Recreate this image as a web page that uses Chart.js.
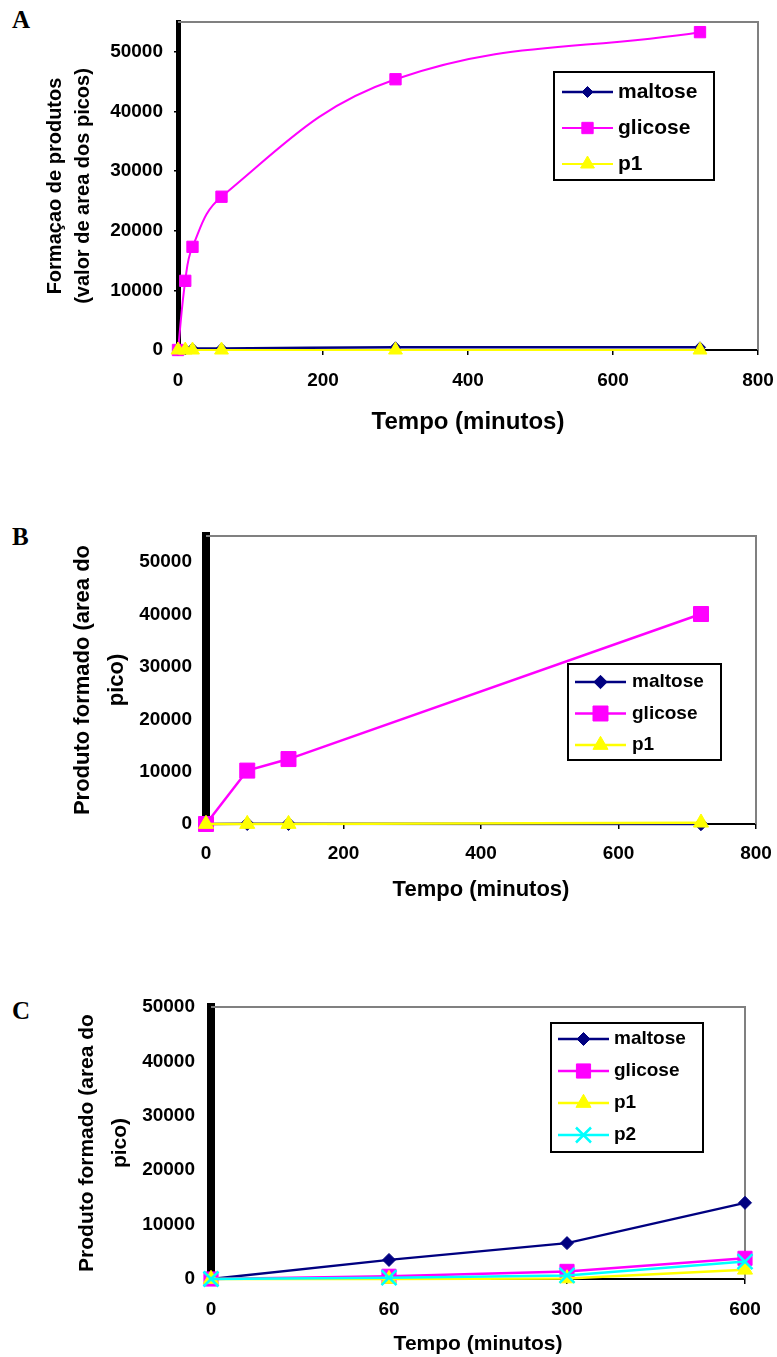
<!DOCTYPE html>
<html>
<head>
<meta charset="utf-8">
<script src="https://cdn.jsdelivr.net/npm/chart.js@4.4.1/dist/chart.umd.min.js"></script>
<style>
  body { margin: 0; background: #fff; }
  #page { position: relative; width: 777px; height: 1357px; overflow: hidden; background: #fff; }
  #page canvas { position: absolute; left: 0; }
  .tag { position: absolute; left: 12px; font: bold 25px "Liberation Serif", "Times New Roman", serif; line-height: 1; }
</style>
</head>
<body>
<div id="page">
  <div class="tag" style="top:7px">A</div>
  <div class="tag" style="top:524px">B</div>
  <div class="tag" style="top:998px">C</div>
  <canvas id="chart-a" width="777" height="440" style="top:0"></canvas>
  <canvas id="chart-b" width="777" height="405" style="top:500px"></canvas>
  <canvas id="chart-c" width="777" height="372" style="top:985px"></canvas>
</div>
<script>
// PANEL A - times in minutes, peak areas
const timesA = [0, 10, 20, 60, 300, 720];
const maltoseA = [0, 100, 250, 250, 450, 450];
const glicoseA = [0, 11600, 17300, 25700, 45400, 53300];
const p1A = [0, 0, 0, 0, 0, 0];

// PANEL B
const timesB = [0, 60, 120, 720];
const maltoseB = [0, 50, 50, 0];
const glicoseB = [0, 10200, 12400, 40100];
const p1B = [0, 0, 0, 250];

// PANEL C (category axis)
const timesC = ['0', '60', '300', '600'];
const maltoseC = [0, 3500, 6600, 14000];
const glicoseC = [0, 500, 1400, 3800];
const p1C = [0, 0, 100, 1700];
const p2C = [0, 250, 650, 3200];

// axis ticks
const yTicks = [0, 10000, 20000, 30000, 40000, 50000];
const xTicksAB = [0, 200, 400, 600, 800];

const xTitle = 'Tempo (minutos)';
const yTitleA = ['Formaçao de produtos', '(valor de area dos picos)'];
const yTitleBC = ['Produto formado (area do', 'pico)'];

Chart.defaults.font.family = 'Arial, "Liberation Sans", Helvetica, sans-serif';
Chart.defaults.color = '#000';

const look = {
  maltose: { color: '#000080', pointStyle: 'rectRot' },
  glicose: { color: '#ff00ff', pointStyle: 'rect' },
  p1: { color: '#ffff00', pointStyle: 'triangle' },
  p2: { color: '#00ffff', pointStyle: 'crossRot' }
};

// xs may be null for a category axis
function series(name, xs, ys, order, radius, width) {
  const st = look[name];
  return {
    label: name,
    data: xs ? xs.map((x, i) => ({ x: x, y: ys[i] })) : ys,
    borderColor: st.color,
    backgroundColor: st.color,
    borderWidth: width,
    pointStyle: st.pointStyle,
    pointRadius: radius,
    pointHoverRadius: radius,
    pointBackgroundColor: st.color,
    pointBorderColor: st.color,
    pointBorderWidth: st.pointStyle === 'crossRot' ? 2.5 : 1,
    order: order,
    clip: false
  };
}

// legend box drawn inside the plot, like the spreadsheet one
const boxLegend = {
  id: 'boxLegend',
  afterDraw(chart, args, o) {
    const ctx = chart.ctx;
    ctx.save();
    ctx.fillStyle = '#fff';
    ctx.fillRect(o.x, o.y, o.w, o.h);
    ctx.lineWidth = 2;
    ctx.strokeStyle = '#000';
    ctx.strokeRect(o.x, o.y, o.w, o.h);
    chart.data.datasets.forEach((ds, i) => {
      const y = o.row + i * o.gap;
      ctx.strokeStyle = ds.borderColor;
      ctx.lineWidth = ds.borderWidth;
      ctx.beginPath();
      ctx.moveTo(o.line0, y);
      ctx.lineTo(o.line1, y);
      ctx.stroke();
      ctx.fillStyle = ds.pointBackgroundColor;
      ctx.strokeStyle = ds.pointBorderColor;
      ctx.lineWidth = ds.pointBorderWidth;
      Chart.helpers.drawPoint(ctx, {
        pointStyle: ds.pointStyle, radius: ds.pointRadius, rotation: 0, borderWidth: ds.pointBorderWidth
      }, (o.line0 + o.line1) / 2, y);
      ctx.fillStyle = '#000';
      ctx.font = 'bold ' + o.size + 'px Arial, "Liberation Sans", sans-serif';
      ctx.textBaseline = 'middle';
      ctx.textAlign = 'left';
      ctx.fillText(ds.label, o.text, y);
    });
    ctx.restore();
  }
};

// grey top and right edges of the plot area
const frame = {
  id: 'frame',
  beforeDatasetsDraw(chart) {
    const { ctx, chartArea: a } = chart;
    ctx.save();
    ctx.strokeStyle = '#808080';
    ctx.lineWidth = 2;
    ctx.beginPath();
    ctx.moveTo(a.left, a.top);
    ctx.lineTo(a.right, a.top);
    ctx.lineTo(a.right, a.bottom);
    ctx.stroke();
    ctx.restore();
  }
};

function yAxis(p) {
  return {
    min: 0,
    max: p.max,
    afterBuildTicks: s => { s.ticks = yTicks.map(v => ({ value: v })); },
    ticks: {
      padding: p.tickPad,
      font: { size: 19, weight: 'bold' }, color: '#000',
      callback: v => String(v)
    },
    grid: { drawOnChartArea: false, tickLength: 4, color: '#000', lineWidth: 1.5 },
    border: { color: '#000', width: p.bar },
    title: {
      display: true, text: p.title, color: '#000',
      font: { size: p.titleSize, weight: 'bold', lineHeight: p.titleLh },
      padding: { top: p.titlePad, bottom: 0 }
    },
    afterFit: s => { s.width = p.left; s.paddingTop = 0; s.paddingBottom = 0; }
  };
}

function xAxis(p) {
  const ax = {
    ticks: {
      padding: p.tickPad, font: { size: p.tickSize, weight: 'bold' }, color: '#000',
      autoSkip: false, maxRotation: 0
    },
    grid: { drawOnChartArea: false, tickLength: 5, color: '#000', lineWidth: 1.5 },
    border: { color: '#000', width: 2 },
    title: {
      display: true, text: xTitle, color: '#000',
      font: { size: p.titleSize, weight: 'bold' },
      padding: { top: 0, bottom: p.titlePad }
    },
    afterFit: s => { s.height = p.height; s.paddingLeft = 0; s.paddingRight = 0; }
  };
  if (p.linear) {
    ax.type = 'linear';
    ax.min = 0;
    ax.max = 800;
    ax.afterBuildTicks = s => { s.ticks = xTicksAB.map(v => ({ value: v })); };
    ax.ticks.callback = v => String(v);
  } else {
    ax.type = 'category';
    ax.offset = false;
    ax.grid.offset = false;
  }
  return ax;
}

// CHART A
new Chart(document.getElementById('chart-a'), {
  type: 'line',
  data: {
    datasets: [
      series('maltose', timesA, maltoseA, 3, 5.5, 2.5),
      series('glicose', timesA, glicoseA, 2, 8, 2),
      series('p1', timesA, p1A, 1, 8, 2)
    ]
  },
  options: {
    responsive: false,
    animation: false,
    elements: { line: { tension: 0.4 } },
    layout: { padding: { top: 22, right: 19, left: 0, bottom: 0 } },
    plugins: {
      legend: { display: false },
      tooltip: { enabled: false },
      boxLegend: { x: 554, y: 72, w: 160, h: 108, row: 92, gap: 36, line0: 562, line1: 613, text: 618, size: 21 }
    },
    scales: {
      x: xAxis({ linear: true, tickPad: 14, tickSize: 19, titleSize: 24, titlePad: 3.6, height: 90 }),
      y: yAxis({ max: 55000, tickPad: 11, bar: 5, title: yTitleA, titleSize: 20, titleLh: 1.4, titlePad: 41, left: 178 })
    }
  },
  plugins: [frame, boxLegend]
});

// CHART B
new Chart(document.getElementById('chart-b'), {
  type: 'line',
  data: {
    datasets: [
      series('maltose', timesB, maltoseB, 3, 6.7, 2.5),
      series('glicose', timesB, glicoseB, 2, 10.6, 2.5),
      series('p1', timesB, p1B, 1, 8.7, 2.5)
    ]
  },
  options: {
    responsive: false,
    animation: false,
    elements: { line: { tension: 0 } },
    layout: { padding: { top: 36, right: 21, left: 0, bottom: 0 } },
    plugins: {
      legend: { display: false },
      tooltip: { enabled: false },
      boxLegend: { x: 568, y: 164, w: 153, h: 96, row: 182, gap: 31.5, line0: 575, line1: 626, text: 632, size: 19 }
    },
    scales: {
      x: xAxis({ linear: true, tickPad: 13, tickSize: 19, titleSize: 22, titlePad: 1.8, height: 81 }),
      y: yAxis({ max: 55000, tickPad: 10, bar: 8, title: yTitleBC, titleSize: 22, titleLh: 1.545, titlePad: 66, left: 206 })
    }
  },
  plugins: [frame, boxLegend]
});

// CHART C
new Chart(document.getElementById('chart-c'), {
  type: 'line',
  data: {
    labels: timesC,
    datasets: [
      series('maltose', null, maltoseC, 3, 6.5, 2.3),
      series('glicose', null, glicoseC, 2, 10, 2.5),
      series('p1', null, p1C, 1, 8.7, 2.5),
      series('p2', null, p2C, 0, 10.6, 2.5)
    ]
  },
  options: {
    responsive: false,
    animation: false,
    elements: { line: { tension: 0 } },
    layout: { padding: { top: 22, right: 32, left: 0, bottom: 0 } },
    plugins: {
      legend: { display: false },
      tooltip: { enabled: false },
      boxLegend: { x: 551, y: 38, w: 152, h: 129, row: 54, gap: 32, line0: 558, line1: 609, text: 614, size: 19 }
    },
    scales: {
      x: xAxis({ linear: false, tickPad: 14.5, tickSize: 19, titleSize: 21, titlePad: 0, height: 78 }),
      y: yAxis({ max: 50000, tickPad: 12, bar: 8, title: yTitleBC, titleSize: 21, titleLh: 1.571, titlePad: 70.5, left: 211 })
    }
  },
  plugins: [frame, boxLegend]
});
</script>
</body>
</html>
